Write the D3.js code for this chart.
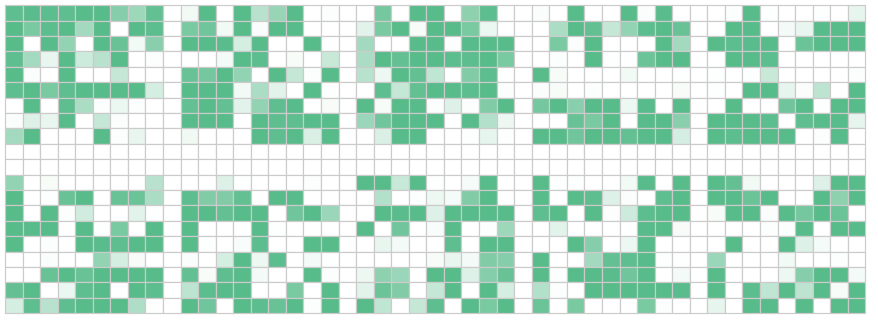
<!DOCTYPE html>
<html lang="en">
  <head>
    <title>Heatmap grid</title>
    <meta charset="utf-8" />
    <script src="https://d3js.org/d3.v7.min.js"></script>
    <style>
      html, body { margin: 0; padding: 0; background: #fff; }
      svg { display: block; }
    </style>
  </head>
  <body>
    <svg id="grid" width="878" height="324"></svg>
    <script>
      // 0 = white, 1 = full green
      const row00 = [.95,.98,.97,.95,1,1,.72,.58,.93,0,.08,1,0,1,.42,.62,1,0,.02,0,0,.82,0,1,1,0,.68,.97,0,0,.03,0,1,0,0,1,.03,.98,0,0,0,.02,1,.01,0,0,.01,0,.15];
      const row01 = [1,.8,.97,1,.55,1,0,1,.97,0,.8,.85,.08,1,.03,1,1,0,0,0,.17,.8,1,.05,1,1,.8,.12,0,0,0,.5,1,.93,.35,.65,.97,1,.9,0,0,1,1,0,.07,.13,1,1,1];
      const row02 = [1,0,1,.65,0,1,.9,.08,.7,0,1,1,.98,.25,1,0,0,1,0,0,.55,0,0,1,1,.02,1,1,1,0,0,.8,.03,1,0,0,0,1,.55,0,1,.97,.98,1,0,.88,1,1,1];
      const row03 = [.95,.55,.13,1,.3,.42,1,0,.02,0,0,0,.07,1,.97,0,.05,0,.33,0,.5,1,.93,1,1,.97,.97,1,.8,0,0,.02,0,1,.01,0,.88,1,1,0,0,1,1,.97,0,0,0,0,0];
      const row04 = [1,.03,0,1,0,0,.35,0,0,0,.9,.82,1,.65,0,1,.35,.02,1,0,.42,.1,1,.93,.38,0,.75,.97,0,0,1,.05,0,0,0,.08,0,0,.01,0,.01,0,.01,.33,0,0,0,0,.02];
      const row05 = [.95,1,.8,.95,1,1,1,1,.25,0,1,1,1,.08,.5,.18,0,1,.01,0,0,.95,.35,.93,1,1,.97,1,.02,0,.03,.05,0,.02,0,0,0,0,.05,0,.01,0,1,1,.15,.03,.4,0,1];
      const row06 = [0,1,0,.95,.5,.02,.12,.02,0,0,.93,1,.93,.18,.65,.95,1,0,.05,0,1,.05,1,1,.02,.2,.02,.75,1,0,.82,1,.7,1,1,.1,1,0,1,0,0,1,0,0,.85,1,.01,1,1];
      const row07 = [.03,.2,.13,1,0,.35,.03,0,0,0,1,1,1,0,1,.95,.95,1,1,0,.6,.85,1,1,1,0,1,.45,.1,0,0,0,.9,.8,1,0,1,1,.7,0,1,1,1,.97,0,.95,1,1,.15];
      const row08 = [.55,1,0,0,0,1,.02,.13,0,0,.09,0,0,0,1,.95,1,.22,1,0,0,.22,1,1,0,0,.01,.15,.01,0,1,1,.85,1,1,.93,1,1,.25,0,1,.97,1,1,1,0,.02,1,0];
      const row09 = [0,0,0,0,0,0,0,0,0,0,0,0,0,0,0,0,0,0,0,0,0,0,0,0,0,0,0,0,0,0,0,0,0,0,0,0,0,0,0,0,0,0,0,0,0,0,0,0,0];
      const row10 = [0,0,0,0,0,0,0,0,0,0,0,0,0,0,0,0,0,0,0,0,0,0,0,0,0,0,0,0,0,0,0,0,0,0,0,0,0,0,0,0,0,0,0,0,0,0,0,0,0];
      const row11 = [.65,0,.05,0,0,0,0,0,.42,0,0,0,.2,.01,0,0,0,.02,0,0,1,1,.33,1,.01,0,.06,1,0,0,1,.01,.01,0,0,.08,1,0,1,0,1,.92,.08,0,0,0,.2,1,1];
      const row12 = [1,0,.01,.9,1,0,.9,.88,.5,0,.97,.75,.75,.93,0,1,1,0,0,0,0,.45,0,.01,.1,.06,.75,1,0,0,1,0,1,.95,.2,.03,0,.95,1,0,1,1,.88,1,0,0,1,.68,1];
      const row13 = [1,0,1,.02,.28,0,0,.18,.01,0,1,1,.92,1,1,0,.85,1,.6,0,0,1,.98,1,.2,1,1,1,1,0,.95,1,0,1,.02,.3,.97,1,1,0,.05,1,1,.03,1,.82,1,.88,0];
      const row14 = [1,1,1,0,1,.01,.8,0,1,0,1,0,0,0,1,.01,0,0,0,0,1,0,.85,0,.04,1,0,.02,.58,0,0,.17,0,0,0,0,1,1,.05,0,0,0,0,.02,.02,1,0,1,1];
      const row15 = [1,0,.02,0,1,.98,.95,1,1,0,1,.01,0,.04,.97,0,0,1,1,0,0,.13,.07,0,0,.95,0,1,1,0,0,0,1,.72,0,.1,1,0,0,0,0,1,0,0,1,.2,.06,0,0];
      const row16 = [0,0,.03,0,0,.65,.25,.05,0,0,.03,0,.25,1,.1,.97,0,.07,.01,0,0,0,0,0,.05,.13,.07,.75,.72,0,1,0,0,.55,.93,.95,1,.01,.01,0,.6,0,0,0,.08,0,0,.02,0];
      const row17 = [0,0,.9,1,.9,1,1,1,1,0,.93,.05,.95,1,.07,0,0,1,.02,0,.1,.68,.6,0,1,1,.2,.72,.9,0,1,.02,1,1,.98,.85,1,0,.07,0,1,0,0,0,.1,.72,1,1,.07];
      const row18 = [.92,1,0,.12,.95,1,0,1,.97,0,.4,.97,1,1,0,0,.8,0,1,0,.18,.88,.75,0,.35,1,0,1,.25,0,.45,.02,0,1,1,1,1,1,.98,0,1,0,.97,.38,1,.4,1,.05,1];
      const row19 = [.25,.95,.42,.95,1,1,1,.48,.01,0,1,.85,0,1,.97,.9,1,.02,1,0,1,.38,0,.35,.95,0,1,.8,1,0,.88,0,.8,0,0,0,.8,.02,0,0,.15,0,1,1,0,1,0,1,1];
      const rows = [row00,row01,row02,row03,row04,row05,row06,row07,row08,row09,row10,row11,row12,row13,row14,row15,row16,row17,row18,row19];

      const svg = d3.select("svg#grid");
      const x = d3.scaleBand().domain(d3.range(row00.length)).range([5, 865.3]);
      const y = d3.scaleBand().domain(d3.range(rows.length)).range([5.2, 313.2]);
      const colorScale = d3.scaleLinear().domain([0, 1]).range(["#ffffff", "#57bb8a"]);

      const cells = [];
      rows.forEach((row, r) => row.forEach((v, c) => cells.push({r: r, c: c, v: v})));

      svg.selectAll("rect.cell")
        .data(cells)
        .join("rect")
        .attr("class", "cell")
        // snap to whole pixels so the grid stays even
        .attr("x", d => Math.round(x(d.c)) + 0.5)
        .attr("y", d => Math.round(y(d.r)) + 0.5)
        .attr("width", d => Math.round(x(d.c) + x.bandwidth()) - Math.round(x(d.c)))
        .attr("height", d => Math.round(y(d.r) + y.bandwidth()) - Math.round(y(d.r)))
        .attr("fill", d => colorScale(d.v))
        .attr("stroke", "#cbcbcb")
        .attr("stroke-width", 1.2);
    </script>
  </body>
</html>
